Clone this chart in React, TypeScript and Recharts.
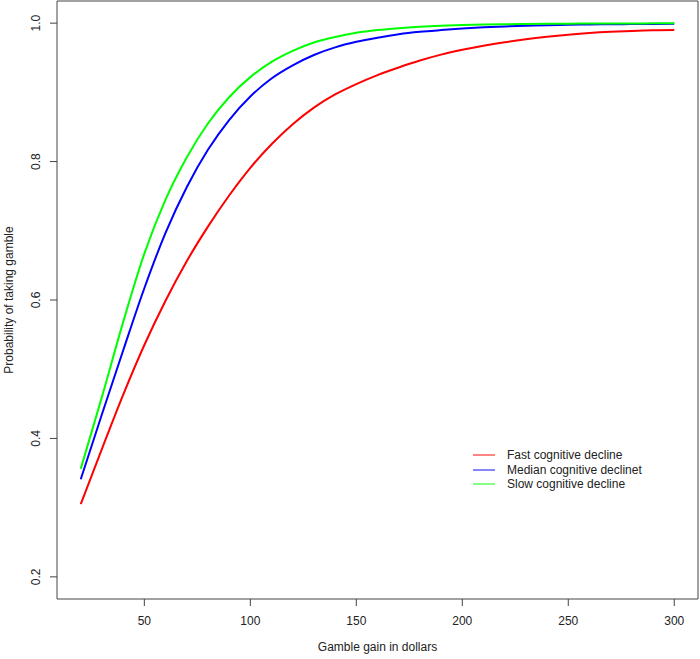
import React from "react";
import { LineChart, Line, XAxis, YAxis, Legend, ReferenceArea } from "recharts";

// gamble gain (x) and probability of taking the gamble for each group
const gains = [20, 30, 40, 50, 60, 70, 80, 90, 100, 110, 120, 130, 140, 150, 160, 170, 180, 190, 200, 210, 220, 230, 240, 250, 260, 270, 280, 290, 300];
const fastDecline = [0.305, 0.385, 0.463, 0.535, 0.599, 0.656, 0.706, 0.751, 0.791, 0.825, 0.854, 0.878, 0.897, 0.912, 0.925, 0.936, 0.946, 0.9545, 0.9615, 0.9675, 0.9725, 0.9767, 0.9802, 0.9832, 0.9857, 0.9875, 0.9888, 0.9897, 0.990];
const medianDecline = [0.341, 0.435, 0.527, 0.617, 0.697, 0.763, 0.817, 0.860, 0.894, 0.920, 0.939, 0.954, 0.965, 0.973, 0.979, 0.984, 0.9875, 0.990, 0.9922, 0.994, 0.9953, 0.9963, 0.9971, 0.9977, 0.9981, 0.9984, 0.9986, 0.9988, 0.999];
const slowDecline = [0.356, 0.460, 0.568, 0.667, 0.745, 0.806, 0.855, 0.893, 0.922, 0.944, 0.960, 0.972, 0.980, 0.986, 0.990, 0.9928, 0.9948, 0.9962, 0.9972, 0.9979, 0.9984, 0.9988, 0.9991, 0.9993, 0.9994, 0.9995, 0.9996, 0.9997, 0.9997];

const xTicks = [50, 100, 150, 200, 250, 300];
const yTicks = [0.2, 0.4, 0.6, 0.8, 1.0];

const data = gains.map((g, i) => ({
  gain: g,
  fast: fastDecline[i],
  median: medianDecline[i],
  slow: slowDecline[i],
}));

const FONT = "'Liberation Sans', Arial, sans-serif";
const INK = "#222";

const XTick = (props: any) => {
  const { x, y, payload } = props;
  return (
    <text x={x} y={y + 17} textAnchor="middle" fontSize={12} fontFamily={FONT} fill={INK}>
      {payload.value}
    </text>
  );
};

const YTick = (props: any) => {
  const { x, y, payload } = props;
  const tx = x - 8;
  return (
    <text x={tx} y={y} transform={`rotate(-90, ${tx}, ${y})`} textAnchor="middle" fontSize={12} fontFamily={FONT} fill={INK}>
      {Number(payload.value).toFixed(1)}
    </text>
  );
};

const XTitle = (props: any) => {
  const vb = props.viewBox;
  return (
    <text x={vb.x + vb.width / 2} y={vb.y + 52} textAnchor="middle" fontSize={12} fontFamily={FONT} fill={INK}>
      Gamble gain in dollars
    </text>
  );
};

const YTitle = (props: any) => {
  const vb = props.viewBox;
  const cx = 13;
  const cy = vb.y + vb.height / 2;
  return (
    <text x={cx} y={cy} transform={`rotate(-90, ${cx}, ${cy})`} textAnchor="middle" fontSize={12} fontFamily={FONT} fill={INK}>
      Probability of taking gamble
    </text>
  );
};

const renderLegend = (props: any) => {
  const { payload } = props;
  return (
    <div style={{ fontFamily: FONT, fontSize: 12, color: INK }}>
      {(payload || []).map((entry: any) => (
        <div key={entry.value} style={{ display: "flex", alignItems: "center", height: 14.5, whiteSpace: "nowrap" }}>
          <svg width={22} height={2} style={{ display: "block" }}>
            <line x1={0} y1={1} x2={22} y2={1} stroke={entry.color} strokeWidth={1.2} strokeOpacity={0.8} />
          </svg>
          <span style={{ marginLeft: 12 }}>{entry.value}</span>
        </div>
      ))}
    </div>
  );
};

export default function App() {
  return (
    <div style={{ position: "absolute", left: 0, top: 0, background: "#fff" }}>
      <LineChart width={700} height={659} data={data} margin={{ top: 1, right: 2, bottom: 0, left: 0 }}>
        <XAxis
          dataKey="gain"
          type="number"
          domain={[8.8, 311.2]}
          ticks={xTicks}
          allowDataOverflow
          axisLine={false}
          tickSize={7}
          tickLine={{ stroke: "#444" }}
          tick={<XTick />}
          height={60}
          label={<XTitle />}
        />
        <YAxis
          type="number"
          domain={[0.168, 1.032]}
          ticks={yTicks}
          allowDataOverflow
          axisLine={false}
          tickSize={7}
          tickLine={{ stroke: "#444" }}
          tick={<YTick />}
          width={57}
          label={<YTitle />}
        />
        <ReferenceArea x1={8.8} x2={311.2} y1={0.168} y2={1.032} fill="none" stroke="#444" strokeWidth={1} ifOverflow="visible" />
        <Line dataKey="fast" name="Fast cognitive decline" stroke="#ff0000" strokeWidth={2} dot={false} type="monotone" isAnimationActive={false} />
        <Line dataKey="median" name="Median cognitive declinet" stroke="#0000ff" strokeWidth={2} dot={false} type="monotone" isAnimationActive={false} />
        <Line dataKey="slow" name="Slow cognitive decline" stroke="#00ff00" strokeWidth={2} dot={false} type="monotone" isAnimationActive={false} />
        <Legend
          layout="vertical"
          align="center"
          verticalAlign="middle"
          content={renderLegend}
          wrapperStyle={{ left: 473, top: 448, width: "auto", height: "auto" }}
        />
      </LineChart>
    </div>
  );
}
